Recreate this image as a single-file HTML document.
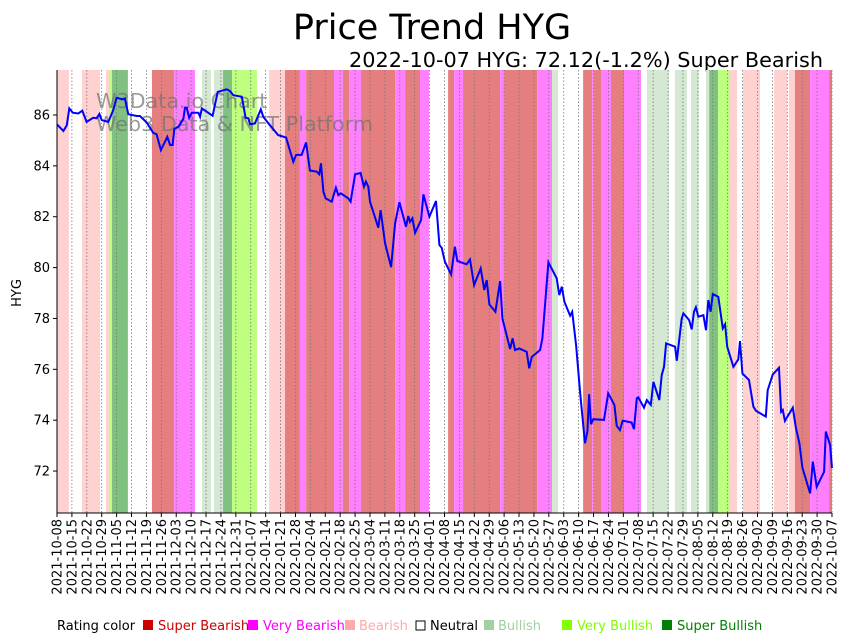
<!DOCTYPE html>
<html><head><meta charset="utf-8"><style>
body{margin:0;background:#fff;}
svg{display:block;font-family:"DejaVu Sans","Liberation Sans",sans-serif;}
</style></head><body>
<svg id="chart" width="849" height="641" viewBox="0 0 849 641" xmlns="http://www.w3.org/2000/svg">
<text x="432" y="39" font-size="35" text-anchor="middle">Price Trend HYG</text>
<text x="823" y="67" font-size="20.8" text-anchor="end">2022-10-07 HYG: 72.12(-1.2%) Super Bearish</text>
<g id="bands"></g>
<g id="grid"></g>
<g fill="#707070" fill-opacity="0.7" font-size="20.7">
<text x="96" y="108">W3Data.io Chart</text>
<text x="96" y="131">Web3 Data &amp; NFT Platform</text>
</g>
<path id="line" fill="none" stroke="#0000ff" stroke-width="2"/>
<g id="axes"></g>
<text transform="translate(21,293) rotate(-90)" font-size="13" text-anchor="middle">HYG</text>
<g font-size="13">
<text x="57" y="630">Rating color</text>
<rect x="143" y="620" width="10" height="10" fill="#cc0000"/><text x="158" y="630" fill="#cc0000">Super Bearish</text>
<rect x="248" y="620" width="10" height="10" fill="#ff00ff"/><text x="263" y="630" fill="#ff00ff">Very Bearish</text>
<rect x="345" y="620" width="10" height="10" fill="#ffaaaa"/><text x="359" y="630" fill="#ffaaaa">Bearish</text>
<rect x="416" y="621" width="9" height="9" fill="none" stroke="#000"/><text x="430" y="630">Neutral</text>
<rect x="484" y="620" width="10" height="10" fill="#a0d0a0"/><text x="498" y="630" fill="#a0d0a0">Bullish</text>
<rect x="562" y="620" width="10" height="10" fill="#7fff00"/><text x="577" y="630" fill="#7fff00">Very Bullish</text>
<rect x="662" y="620" width="10" height="10" fill="#008000"/><text x="677" y="630" fill="#008000">Super Bullish</text>
</g>
</svg>
<script>
const days=[0,3,4.6,5.8,7.4,10,11.9,13.9,17,18.6,19.9,21,24.1,26.4,28,30.4,31.9,33.5,37.4,39,42.1,45.2,46.8,48.8,51.8,53.1,54.3,55.1,57,59.3,60.1,60.9,62.1,63.3,66.4,67.2,68,70.3,73.1,75.5,79.7,81.3,82.8,86.8,88.6,89.9,90.7,93,95.7,96.9,100,103.9,107.6,111,112.3,114.9,117,118.8,122,123.2,124,125.1,126.2,129,131,132.1,133.3,136.8,137.9,140,142.6,144.2,145.1,146.2,147,150.9,152,154.1,156.9,158.8,160.8,163.9,165,165.8,166.9,168.2,171,172.1,174.9,178,179.6,180.7,182.2,185.1,186.9,188,192.4,194,195.9,199,200.7,201.8,203.1,205.9,208.1,209.2,212.8,214,215.1,217.1,220.6,221.8,223,226.9,228,230.8,234.7,235.9,237.1,238.3,241,242,243.8,245.7,248,249.1,249.9,250.8,251.9,256.9,258.9,261.8,262.9,264.4,265.7,269.9,271,272.3,273,275.7,277,278.9,280.1,282.9,284,285.1,286.1,290.3,291.1,293.4,294.2,296.9,298.1,299.2,300.1,301.2,303.6,304.8,305.9,307,308,310.6,312.7,313.8,314.8,317.7,320,320.8,321.9,325,327.1,328.3,332.9,333.8,336.2,339.1,340.1,340.9,341.9,345.6,347,348.7,350.1,353.7,355,356.8,360.3,361.1,363.1,364];
const prices=[85.63,85.37,85.6,86.26,86.09,86.06,86.17,85.73,85.89,85.87,86.04,85.8,85.73,86.19,86.68,86.62,86.65,86.03,85.96,85.96,85.71,85.3,85.24,84.62,85.14,84.82,84.82,85.45,85.54,85.84,86.29,86.29,85.89,86.09,86.09,85.93,86.26,86.13,85.97,86.91,87.01,86.94,86.78,86.72,85.89,85.87,85.63,85.67,86.22,85.93,85.6,85.21,85.11,84.16,84.43,84.43,84.92,83.82,83.77,83.67,84.1,82.98,82.72,82.59,83.14,82.85,82.92,82.72,82.59,83.67,83.72,83.18,83.38,83.18,82.59,81.57,82.26,80.95,80.02,81.74,82.57,81.61,82.03,81.8,81.94,81.37,81.87,82.88,82,82.62,80.89,80.78,80.23,79.73,80.82,80.26,80.13,80.32,79.31,79.97,79.12,79.51,78.55,78.26,79.47,78,76.8,77.22,76.76,76.82,76.69,76.04,76.49,76.76,77.22,80.21,79.58,78.92,79.25,78.66,78.11,78.26,76.95,75.09,73.09,73.55,75.02,73.84,74.04,74.01,75.06,74.6,73.78,73.61,73.98,73.91,73.65,74.86,74.9,74.49,74.79,74.6,75.51,74.79,75.77,76.1,77.02,76.89,76.34,78,78.2,77.94,77.57,78.26,78.44,78.07,78.13,77.54,78.72,78.26,78.96,78.85,77.61,77.77,76.89,76.1,76.39,77.11,75.84,75.58,74.53,74.37,74.14,75.18,75.8,76.06,74.33,74.4,73.97,74.49,73.72,73.09,72.13,71.12,72.37,71.38,71.97,73.55,73.02,72.12];
const bandStart=[0,11.7,23,24.4,25.8,44.6,55,68.1,73.7,78,82.2,99.6,107.1,114.1,117,130.1,134.3,137.2,142.8,158.8,163.5,170.5,183.7,186.5,190.7,208.1,210,225.5,232.5,247.1,251.3,252.2,255.5,260.2,266.3,277.1,290.2,297.8,304.8,306.3,310.5,316.1,322.2,336.8,343.8,346.6,353.7,362.6];
const bandEnd=[5.6,20.2,24.4,25.8,33.3,55,64.8,72.3,78,82.2,93.9,107.1,114.1,117,130.1,134.3,137.2,142.8,158.8,163.5,170.5,174.7,186.5,190.7,208.1,210,225.5,232.5,235.3,251.3,252.2,255.5,260.2,266.3,274.3,287.4,295.9,301.5,306.3,310.5,316.1,319.4,330.2,342.9,346.6,353.7,362.6,364];
const bandRating=[3,3,3,6,7,1,2,5,5,7,6,3,1,2,1,2,1,2,1,2,1,2,1,2,1,2,1,2,5,1,2,1,2,1,2,5,5,5,5,7,6,3,3,3,3,1,2,1];
const yTicks=[72,74,76,78,80,82,84,86];
const tickLabels=["2021-10-08","2021-10-15","2021-10-22","2021-10-29","2021-11-05","2021-11-12","2021-11-19","2021-11-26","2021-12-03","2021-12-10","2021-12-17","2021-12-24","2021-12-31","2022-01-07","2022-01-14","2022-01-21","2022-01-28","2022-02-04","2022-02-11","2022-02-18","2022-02-25","2022-03-04","2022-03-11","2022-03-18","2022-03-25","2022-04-01","2022-04-08","2022-04-15","2022-04-22","2022-04-29","2022-05-06","2022-05-13","2022-05-20","2022-05-27","2022-06-03","2022-06-10","2022-06-17","2022-06-24","2022-07-01","2022-07-08","2022-07-15","2022-07-22","2022-07-29","2022-08-05","2022-08-12","2022-08-19","2022-08-26","2022-09-02","2022-09-09","2022-09-16","2022-09-23","2022-09-30","2022-10-07"];
const ratingColors=["#ffffff","#e57f7f","#ff80ff","#ffd1d1","#ffffff","#d4e8d4","#bfff80","#80c080"];
const L=57,R=832,T=70,B=513,D0=0,D1=364,V0=70.35,V1=87.77;
const xs=d=>L+(d-D0)/(D1-D0)*(R-L);
const ys=v=>B-(v-V0)/(V1-V0)*(B-T);
const NS="http://www.w3.org/2000/svg";
function mk(tag,attrs,parent){const e=document.createElementNS(NS,tag);for(const k in attrs)e.setAttribute(k,attrs[k]);parent.appendChild(e);return e;}
const bands=document.getElementById('bands');
for(let i=0;i<bandStart.length;i++){
  const r=mk('rect',{x:xs(bandStart[i]),y:T,width:xs(bandEnd[i])-xs(bandStart[i]),height:B-T,fill:ratingColors[bandRating[i]]},bands);
  
  
}
const grid=document.getElementById('grid'),axes=document.getElementById('axes');
tickLabels.forEach((t,i)=>{
  const x=xs(i*7);
  const g=mk('line',{x1:x,x2:x,y1:T,y2:B,stroke:'#777','stroke-width':0.8,'stroke-dasharray':'1.5,2'},grid);
  
  
  mk('line',{x1:x,x2:x,y1:B,y2:B+4,stroke:'#000','stroke-width':1},axes);
  const tx=mk('text',{transform:`translate(${x+4.5},${B+6}) rotate(-90)`,'font-size':13,'text-anchor':'end'},axes);
  tx.textContent=t;
  
  
});
yTicks.forEach(v=>{
  const y=ys(v);
  mk('line',{x1:L-4,x2:L,y1:y,y2:y,stroke:'#000','stroke-width':1},axes);
  const tx=mk('text',{x:L-7,y:y+4.5,'font-size':13,'text-anchor':'end'},axes);
  tx.textContent=v;
  
  
});
mk('line',{x1:L,x2:L,y1:T,y2:B,stroke:'#000','stroke-width':1},axes);
mk('line',{x1:L,x2:R,y1:B,y2:B,stroke:'#000','stroke-width':1},axes);
document.getElementById('line').setAttribute('d',days.map((d,i)=>(i?'L':'M')+xs(d).toFixed(1)+','+ys(prices[i]).toFixed(1)).join(''));
</script>
</body></html>
